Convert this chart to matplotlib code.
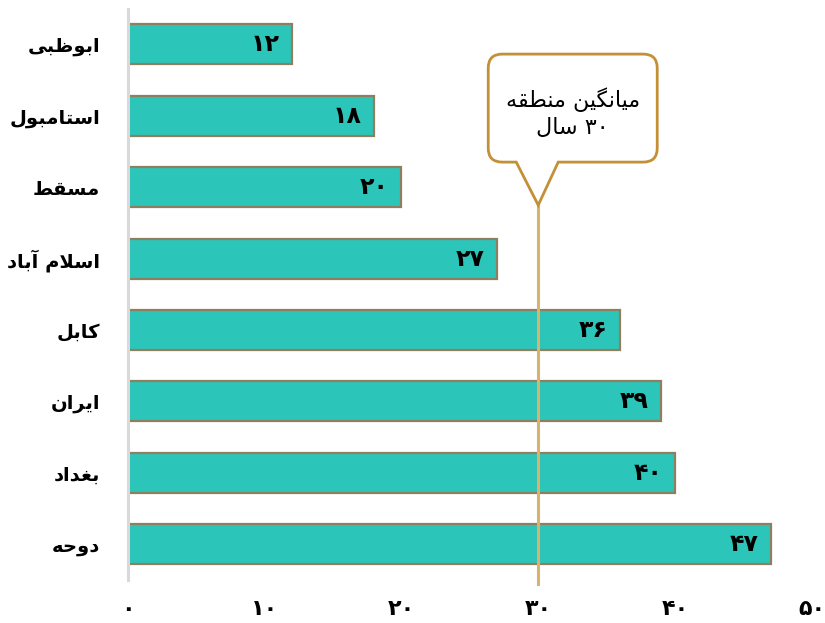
import matplotlib
matplotlib.use("Agg")
import matplotlib.pyplot as plt
import matplotlib.transforms as mtransforms
from matplotlib.path import Path
from matplotlib.patches import PathPatch

# ---- data -------------------------------------------------------------
cities = ["ابوظبی", "استامبول", "مسقط", "اسلام آباد", "کابل", "ایران", "بغداد", "دوحه"]
ages = [12, 18, 20, 27, 36, 39, 40, 47]
x_ticks = [0, 10, 20, 30, 40, 50]
regional_avg = 30
callout_lines = ["میانگین منطقه", "۳۰ سال"]

# ---- minimal Arabic-script shaping (matplotlib does no shaping) -------
# forms: (isolated, final, initial, medial)
FORMS = {
    "ا": ("\uFE8D", "\uFE8E", None, None),
    "آ": ("\uFE81", "\uFE82", None, None),
    "ب": ("\uFE8F", "\uFE90", "\uFE91", "\uFE92"),
    "ت": ("\uFE95", "\uFE96", "\uFE97", "\uFE98"),
    "ح": ("\uFEA1", "\uFEA2", "\uFEA3", "\uFEA4"),
    "د": ("\uFEA9", "\uFEAA", None, None),
    "ر": ("\uFEAD", "\uFEAE", None, None),
    "س": ("\uFEB1", "\uFEB2", "\uFEB3", "\uFEB4"),
    "ط": ("\uFEC1", "\uFEC2", "\uFEC3", "\uFEC4"),
    "ظ": ("\uFEC5", "\uFEC6", "\uFEC7", "\uFEC8"),
    "غ": ("\uFECD", "\uFECE", "\uFECF", "\uFED0"),
    "ق": ("\uFED5", "\uFED6", "\uFED7", "\uFED8"),
    "ل": ("\uFEDD", "\uFEDE", "\uFEDF", "\uFEE0"),
    "م": ("\uFEE1", "\uFEE2", "\uFEE3", "\uFEE4"),
    "ن": ("\uFEE5", "\uFEE6", "\uFEE7", "\uFEE8"),
    "ه": ("\uFEE9", "\uFEEA", "\uFEEB", "\uFEEC"),
    "و": ("\uFEED", "\uFEEE", None, None),
    "ی": ("\uFBFC", "\uFBFD", "\uFBFE", "\uFBFF"),
    "ک": ("\uFB8E", "\uFB8F", "\uFB90", "\uFB91"),
    "گ": ("\uFB92", "\uFB93", "\uFB94", "\uFB95"),
}
LAM_ALEF = {"ا": ("\uFEFB", "\uFEFC"), "آ": ("\uFEF5", "\uFEF6")}


def _dual(c):
    return c in FORMS and FORMS[c][2] is not None


def _joins(c):
    return c in FORMS


def _shape_word(word):
    out = []
    i = 0
    n = len(word)
    while i < n:
        c = word[i]
        prev = word[i - 1] if i > 0 else None
        nxt = word[i + 1] if i + 1 < n else None
        con_prev = prev is not None and _dual(prev) and _joins(c)
        if c == "ل" and nxt in LAM_ALEF:
            out.append(LAM_ALEF[nxt][1 if con_prev else 0])
            i += 2
            continue
        if c not in FORMS:
            out.append(c)
            i += 1
            continue
        con_next = _dual(c) and nxt is not None and _joins(nxt)
        iso, fin, ini, med = FORMS[c]
        if con_prev and con_next:
            out.append(med)
        elif con_prev:
            out.append(fin)
        elif con_next:
            out.append(ini)
        else:
            out.append(iso)
        i += 1
    return "".join(out)


def rtl(text):
    words = text.split(" ")
    visual = []
    for w in reversed(words):
        if any(ch in FORMS for ch in w):
            visual.append(_shape_word(w)[::-1])
        else:
            visual.append(w)
    return " ".join(visual)


def fa_digits(v):
    return str(v).translate(str.maketrans("0123456789", "۰۱۲۳۴۵۶۷۸۹"))


# ---- figure -----------------------------------------------------------
plt.rcParams["font.family"] = ["DejaVu Sans"]
fig = plt.figure(figsize=(8.25, 6.23), dpi=100)
ax = fig.add_axes([0.155, 0.069, 0.829, 0.917])

bar_face = "#2CC5BA"
bar_edge = "#8E7F5F"
avg_color = "#D8B36E"
callout_color = "#C39037"

y = list(range(len(cities)))
ax.barh(y, ages, height=0.56, color=bar_face, edgecolor=bar_edge,
        linewidth=1.6, zorder=2)

ax.set_ylim(len(cities) - 0.5, -0.5)
ax.set_xlim(0, 50)

for yi, v in zip(y, ages):
    ax.annotate(fa_digits(v), xy=(v, yi), xytext=(-9, 0),
                textcoords="offset points", ha="right", va="center",
                fontsize=17, fontweight="bold", color="black", zorder=4)

ax.set_yticks(y)
ax.set_yticklabels([rtl(c) for c in cities], fontsize=14, fontweight="bold")
ax.set_xticks(x_ticks)
ax.set_xticklabels([fa_digits(t) for t in x_ticks], fontsize=16, fontweight="bold")
ax.tick_params(axis="y", length=0, pad=20)
ax.tick_params(axis="x", length=0, pad=14)

for s in ("top", "right", "bottom"):
    ax.spines[s].set_visible(False)
ax.spines["left"].set_color("#D9D9D9")
ax.spines["left"].set_linewidth(2.2)
ax.spines["left"].set_zorder(3)

# regional average line
tip_y = 2.25
ax.plot([regional_avg, regional_avg], [tip_y, len(cities) - 0.45],
        color=avg_color, linewidth=2.2, zorder=3, clip_on=False)

# speech-bubble callout, built in pixel offsets from its tip
L, R, B, T, r = -50, 119, 43, 151, 14
pl, pr = -22, 20
verts = [
    (0, 0), (pr, B),
    (R - r, B), (R, B), (R, B + r),
    (R, T - r), (R, T), (R - r, T),
    (L + r, T), (L, T), (L, T - r),
    (L, B + r), (L, B), (L + r, B),
    (pl, B), (0, 0),
]
codes = [Path.MOVETO, Path.LINETO,
         Path.LINETO, Path.CURVE3, Path.CURVE3,
         Path.LINETO, Path.CURVE3, Path.CURVE3,
         Path.LINETO, Path.CURVE3, Path.CURVE3,
         Path.LINETO, Path.CURVE3, Path.CURVE3,
         Path.LINETO, Path.CLOSEPOLY]
anchor = mtransforms.ScaledTranslation(regional_avg, tip_y, ax.transData)
bubble = PathPatch(Path(verts, codes), facecolor="white",
                   edgecolor=callout_color, linewidth=2.0,
                   transform=mtransforms.Affine2D() + anchor, zorder=5,
                   clip_on=False, joinstyle="miter")
ax.add_patch(bubble)

cx = (L + R) / 2
text_tr = mtransforms.Affine2D() + anchor
ax.text(cx, 105, rtl(callout_lines[0]), transform=text_tr, ha="center",
        va="center", fontsize=16, zorder=6)
ax.text(cx, 77, rtl(callout_lines[1]), transform=text_tr, ha="center",
        va="center", fontsize=16, zorder=6)

fig.savefig("out.png", dpi=100)
